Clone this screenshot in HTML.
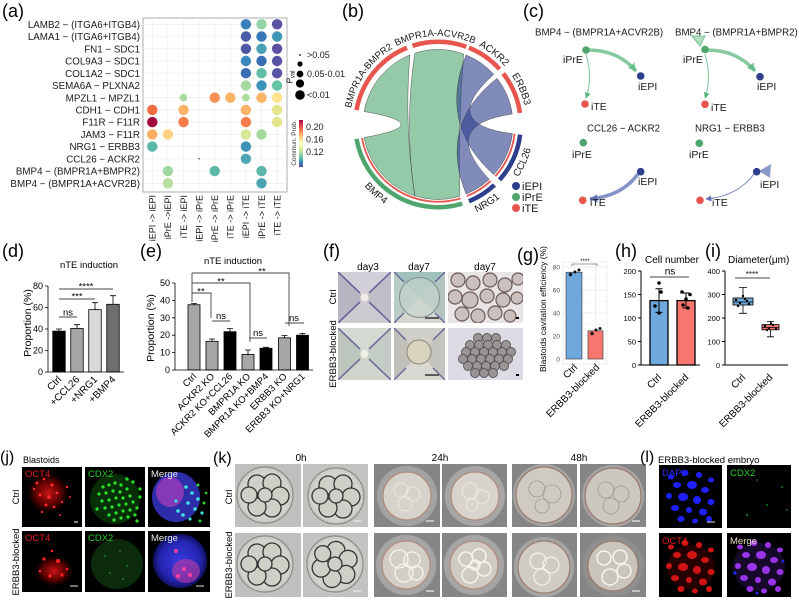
<!DOCTYPE html>
<html><head><meta charset="utf-8">
<style>
html,body{margin:0;padding:0;background:#fff;}
svg{display:block;font-family:"Liberation Sans",Arial,sans-serif;}
</style></head><body>
<svg width="799" height="603" viewBox="0 0 799 603" xmlns="http://www.w3.org/2000/svg">
<defs>
<linearGradient id="spec" x1="0" y1="0" x2="0" y2="1">
<stop offset="0" stop-color="#9e0142"/><stop offset="0.1" stop-color="#d53e4f"/><stop offset="0.2" stop-color="#f46d43"/><stop offset="0.3" stop-color="#fdae61"/><stop offset="0.4" stop-color="#fee08b"/><stop offset="0.5" stop-color="#ffffbf"/><stop offset="0.6" stop-color="#e6f598"/><stop offset="0.7" stop-color="#abdda4"/><stop offset="0.8" stop-color="#66c2a5"/><stop offset="0.9" stop-color="#3288bd"/><stop offset="1" stop-color="#5e4fa2"/>
</linearGradient>
<radialGradient id="redHaze"><stop offset="0" stop-color="#e01818" stop-opacity="0.9"/><stop offset="0.6" stop-color="#a00000" stop-opacity="0.55"/><stop offset="1" stop-color="#300000" stop-opacity="0"/></radialGradient>
<radialGradient id="blueHaze"><stop offset="0" stop-color="#3a3ae0"/><stop offset="0.75" stop-color="#2424b0"/><stop offset="1" stop-color="#101060"/></radialGradient>
<radialGradient id="bg24"><stop offset="0" stop-color="#a9a9a9"/><stop offset="0.55" stop-color="#9a9a9a"/><stop offset="1" stop-color="#858585"/></radialGradient>
<marker id="mg" viewBox="0 0 10 10" refX="9" refY="5" markerWidth="2.4" markerHeight="2.4" orient="auto"><path d="M0,0 L10,5 L0,10 z" fill="#5cb87f" fill-opacity="0.8"/></marker>
<marker id="mg1" viewBox="0 0 10 10" refX="9" refY="5" markerWidth="6" markerHeight="6" orient="auto"><path d="M0,0 L10,5 L0,10 z" fill="#5cb87f"/></marker>
<marker id="mb" viewBox="0 0 10 10" refX="9" refY="5" markerWidth="2.4" markerHeight="2.4" orient="auto"><path d="M0,0 L10,5 L0,10 z" fill="#5a6db5" fill-opacity="0.85"/></marker>
<marker id="mb1" viewBox="0 0 10 10" refX="9" refY="5" markerWidth="6" markerHeight="6" orient="auto"><path d="M0,0 L10,5 L0,10 z" fill="#5a6db5"/></marker>
<g id="nuc">
<ellipse cx="12" cy="12" rx="3" ry="2.5"/><ellipse cx="26" cy="8" rx="3.5" ry="3"/><ellipse cx="40" cy="10" rx="3" ry="3"/><ellipse cx="52" cy="15" rx="3" ry="2.5"/><ellipse cx="18" cy="20" rx="4" ry="3"/><ellipse cx="33" cy="20" rx="5" ry="4"/><ellipse cx="46" cy="25" rx="4" ry="3"/><ellipse cx="10" cy="31" rx="3" ry="3"/><ellipse cx="24" cy="32" rx="5" ry="4"/><ellipse cx="38" cy="35" rx="4" ry="4"/><ellipse cx="52" cy="37" rx="3.5" ry="3"/><ellipse cx="16" cy="43" rx="4" ry="3"/><ellipse cx="30" cy="45" rx="3" ry="3"/><ellipse cx="44" cy="47" rx="4" ry="3.5"/><ellipse cx="22" cy="54" rx="3.5" ry="3"/><ellipse cx="36" cy="56" rx="3" ry="2.5"/><ellipse cx="50" cy="54" rx="3" ry="3"/>
</g>
<g id="emb0">
<circle r="28" fill="#cdcdc7" stroke="#8a8a86" stroke-width="1.2"/>
<circle r="25" fill="#d3d3cd"/>
<g stroke="#333" stroke-width="1.3" fill="#cfcfc8">
<circle cx="-8" cy="-11" r="9"/><circle cx="7" cy="-12" r="9"/><circle cx="15" cy="1" r="9"/><circle cx="7" cy="13" r="9"/><circle cx="-8" cy="12" r="9"/><circle cx="-16" cy="0" r="8"/><circle cx="0" cy="0" r="7"/>
</g>
</g>
</defs>

<!-- ================= (a) ================= -->
<text x="2" y="17" font-size="18">(a)</text>
<rect x="143" y="18" width="144" height="174" fill="#fff" stroke="#9a9a9a" stroke-width="0.8"/>
<g stroke="#ebebeb" stroke-width="0.6">
<path d="M152.3,18V192M167.9,18V192M183.5,18V192M199.1,18V192M214.7,18V192M230.3,18V192M245.9,18V192M261.5,18V192M277.1,18V192"/>
<path d="M143,24.3H287M143,36.5H287M143,48.8H287M143,61H287M143,73.2H287M143,85.5H287M143,97.7H287M143,109.9H287M143,122.1H287M143,134.4H287M143,146.6H287M143,158.8H287M143,171.1H287M143,183.3H287"/>
</g>
<g>
<circle cx="245.9" cy="24.3" r="5.2" fill="#3a80bd"/><circle cx="261.5" cy="24.3" r="5.2" fill="#93d4a4"/><circle cx="277.1" cy="24.3" r="5.2" fill="#5a52a3"/>
<circle cx="245.9" cy="36.5" r="5.2" fill="#4c5ba8"/><circle cx="261.5" cy="36.5" r="5.2" fill="#3577b8"/><circle cx="277.1" cy="36.5" r="5.2" fill="#3f96b7"/>
<circle cx="245.9" cy="48.8" r="5.2" fill="#4f58a7"/><circle cx="261.5" cy="48.8" r="5.2" fill="#4aa0b4"/><circle cx="277.1" cy="48.8" r="5.2" fill="#5e4fa2"/>
<circle cx="245.9" cy="61" r="5.2" fill="#3a88bd"/><circle cx="261.5" cy="61" r="5.2" fill="#3a6fb4"/><circle cx="277.1" cy="61" r="5.2" fill="#5752a3"/>
<circle cx="245.9" cy="73.2" r="5.2" fill="#3b6db3"/><circle cx="261.5" cy="73.2" r="5.2" fill="#62bea6"/><circle cx="277.1" cy="73.2" r="5.2" fill="#5654a4"/>
<circle cx="245.9" cy="85.5" r="5.2" fill="#a6da9f"/><circle cx="261.5" cy="85.5" r="5.2" fill="#3d92b8"/><circle cx="277.1" cy="85.5" r="5.2" fill="#66c2a5"/>
<circle cx="183.5" cy="97.7" r="3.8" fill="#a9db9e"/><circle cx="214.7" cy="97.7" r="5.2" fill="#f88e52"/><circle cx="230.3" cy="97.7" r="5.2" fill="#fdb465"/><circle cx="245.9" cy="97.7" r="3.8" fill="#addc9f"/><circle cx="261.5" cy="97.7" r="5.2" fill="#fdb465"/><circle cx="277.1" cy="97.7" r="5.2" fill="#fee28f"/>
<circle cx="152.3" cy="109.9" r="5.2" fill="#f46d43"/><circle cx="183.5" cy="109.9" r="5.2" fill="#fdb466"/><circle cx="245.9" cy="109.9" r="5.2" fill="#fdb466"/><circle cx="277.1" cy="109.9" r="5.2" fill="#e3e48c"/>
<circle cx="152.3" cy="122.1" r="5.2" fill="#a0083f"/><circle cx="183.5" cy="122.1" r="5.2" fill="#f67c4a"/><circle cx="245.9" cy="122.1" r="5.2" fill="#f67c4a"/><circle cx="277.1" cy="122.1" r="5.2" fill="#e3e48c"/>
<circle cx="152.3" cy="134.4" r="5.2" fill="#fdae61"/><circle cx="167.9" cy="134.4" r="5.2" fill="#fed484"/><circle cx="245.9" cy="134.4" r="5.2" fill="#d4e89a"/><circle cx="261.5" cy="134.4" r="5.2" fill="#a5d9a0"/>
<circle cx="152.3" cy="146.6" r="5.2" fill="#5ab6a9"/><circle cx="245.9" cy="146.6" r="5.2" fill="#3f93b9"/>
<circle cx="199.1" cy="158.8" r="0.7" fill="#222"/><circle cx="245.9" cy="158.8" r="5.2" fill="#4ba5b2"/>
<circle cx="167.9" cy="171.1" r="5.2" fill="#9fd7a2"/><circle cx="214.7" cy="171.1" r="5.2" fill="#5cb7a8"/><circle cx="261.5" cy="171.1" r="5.2" fill="#5cb7a8"/>
<circle cx="167.9" cy="183.3" r="5.2" fill="#b7e0a0"/><circle cx="261.5" cy="183.3" r="5.2" fill="#4aa5b1"/>
</g>
<g font-size="9.8" text-anchor="end" fill="#1a1a1a">
<text x="140" y="27.9">LAMB2 − (ITGA6+ITGB4)</text>
<text x="140" y="40.1">LAMA1 − (ITGA6+ITGB4)</text>
<text x="140" y="52.4">FN1 − SDC1</text>
<text x="140" y="64.6">COL9A3 − SDC1</text>
<text x="140" y="76.8">COL1A2 − SDC1</text>
<text x="140" y="89.1">SEMA6A − PLXNA2</text>
<text x="140" y="101.3">MPZL1 − MPZL1</text>
<text x="140" y="113.5">CDH1 − CDH1</text>
<text x="140" y="125.7">F11R − F11R</text>
<text x="140" y="138">JAM3 − F11R</text>
<text x="140" y="150.2">NRG1 − ERBB3</text>
<text x="140" y="162.4">CCL26 − ACKR2</text>
<text x="140" y="174.7">BMP4 − (BMPR1A+BMPR2)</text>
<text x="140" y="186.9">BMP4 − (BMPR1A+ACVR2B)</text>
</g>
<g font-size="9" text-anchor="end" fill="#1a1a1a">
<text transform="translate(155.6,195) rotate(-90)">iEPI -&gt; iEPI</text>
<text transform="translate(171.2,195) rotate(-90)">iPrE -&gt;iEPI</text>
<text transform="translate(186.8,195) rotate(-90)">iTE -&gt; iEPI</text>
<text transform="translate(202.4,195) rotate(-90)">iEPI -&gt; iPrE</text>
<text transform="translate(218,195) rotate(-90)">iPrE -&gt; iPrE</text>
<text transform="translate(233.6,195) rotate(-90)">iTE -&gt; iPrE</text>
<text transform="translate(249.2,195) rotate(-90)">iEPI -&gt; iTE</text>
<text transform="translate(264.8,195) rotate(-90)">iPrE -&gt; iTE</text>
<text transform="translate(280.4,195) rotate(-90)">iTE -&gt; iTE</text>
</g>
<!-- legend a -->
<text transform="translate(292.5,77) rotate(-90)" text-anchor="middle" font-size="8" font-style="italic">P<tspan font-size="6" dy="2" font-style="normal">val</tspan></text>
<circle cx="300" cy="55" r="0.9" fill="#000"/><circle cx="300" cy="64" r="2.6" fill="#000"/><circle cx="300" cy="74" r="3.4" fill="#000"/><circle cx="300" cy="83.5" r="4.1" fill="#000"/><circle cx="300" cy="95" r="4.8" fill="#000"/>
<g font-size="9" fill="#1a1a1a"><text x="307" y="58">&gt;0.05</text><text x="307" y="77">0.05-0.01</text><text x="307" y="98">&lt;0.01</text></g>
<rect x="299" y="120" width="4" height="47" fill="url(#spec)"/>
<g font-size="9" fill="#1a1a1a"><text x="306" y="130">0.20</text><text x="306" y="142.5">0.16</text><text x="306" y="155">0.12</text></g>
<text transform="translate(296,143) rotate(-90)" text-anchor="middle" font-size="6.5" fill="#333">Commun. Prob.</text>

<!-- ================= (b) ================= -->
<text x="342" y="17" font-size="18">(b)</text>
<g transform="translate(0,2.5)">
<defs>
<path id="lp1" d="M349.51,123.54 A88.5,88.5 0 0 1 421.11,35.13"/>
<path id="lp2" d="M377.31,57.23 A88.5,88.5 0 0 1 492.06,52.21"/>
<path id="lp3" d="M448.79,34.16 A88.5,88.5 0 0 1 519.46,87.42"/>
<path id="lp4" d="M491.26,51.32 A88.5,88.5 0 0 1 525.84,132.79"/>
<path id="lp5" d="M346.70,151.66 A96,96 0 0 0 418.04,215.90"/>
<path id="lp6" d="M454.67,216.54 A96,96 0 0 0 515.66,178.43"/>
<path id="lp7" d="M499.71,195.54 A96,96 0 0 0 533.94,118.65"/>
</defs>
<g stroke="#333" stroke-width="0.5" stroke-opacity="0.8">
<path d="M364.14,108.98 A75,75 0 0 1 409.90,52.46 Q404,122 414.82,193.33 A75,75 0 0 1 364.14,135.02 Q438,122 364.14,108.98 Z" fill="#4ea66e" fill-opacity="0.6"/>
<path d="M414.82,50.67 A75,75 0 0 1 463.65,51.52 Q458,122 459.93,193.72 A75,75 0 0 1 414.82,193.33 Q404,122 414.82,50.67 Z" fill="#4ea66e" fill-opacity="0.6"/>
<path d="M466.10,52.46 A75,75 0 0 1 493.73,71.82 Q438,122 512.44,131.14 A75,75 0 0 1 493.73,172.18 Q438,122 466.10,52.46 Z" fill="#2c3e8c" fill-opacity="0.6"/>
<path d="M497.10,75.82 A75,75 0 0 1 512.27,111.56 Q438,122 489.15,176.86 A75,75 0 0 1 466.10,191.54 Q438,122 497.10,75.82 Z" fill="#2c3e8c" fill-opacity="0.6"/>
</g>
<g fill="none" stroke-width="4.5">
<path d="M356.51,107.63 A82.75,82.75 0 0 1 407.00,45.27" stroke="#e8554e"/>
<path d="M412.43,43.30 A82.75,82.75 0 0 1 466.30,44.24" stroke="#e8554e"/>
<path d="M469.00,45.27 A82.75,82.75 0 0 1 499.49,66.63" stroke="#e8554e"/>
<path d="M503.21,71.05 A82.75,82.75 0 0 1 519.95,110.48" stroke="#e8554e"/>
<path d="M520.13,132.09 A82.75,82.75 0 0 1 499.49,177.37" stroke="#2c3e8c"/>
<path d="M494.44,182.52 A82.75,82.75 0 0 1 469.00,198.73" stroke="#2c3e8c"/>
<path d="M462.20,201.13 A82.75,82.75 0 0 1 356.51,136.37" stroke="#4ea66e"/>
</g>
<g fill="none" stroke-width="1.8" stroke="#e8554e">
<path d="M514.62,131.41 A77.2,77.2 0 0 1 495.37,173.65"/>
<path d="M490.65,178.46 A77.2,77.2 0 0 1 466.92,193.58"/>
<path d="M460.57,195.83 A77.2,77.2 0 0 1 361.97,135.40"/>
</g>
<g font-size="10" text-anchor="middle" fill="#1a1a1a">
<text font-size="9.5"><textPath href="#lp1" startOffset="45%">BMPR1A-BMPR2</textPath></text>
<text font-size="9.5"><textPath href="#lp2" startOffset="51%">BMPR1A-ACVR2B</textPath></text>
<text><textPath href="#lp3" startOffset="52%">ACKR2</textPath></text>
<text><textPath href="#lp4" startOffset="50%">ERBB3</textPath></text>
<text><textPath href="#lp5" startOffset="50%">BMP4</textPath></text>
<text><textPath href="#lp6" startOffset="50%">NRG1</textPath></text>
<text><textPath href="#lp7" startOffset="50%">CCL26</textPath></text>
</g>
</g>
<circle cx="516" cy="186" r="4" fill="#2c3e8c"/><circle cx="516" cy="197" r="4" fill="#4ea66e"/><circle cx="516" cy="208" r="4" fill="#e8554e"/>
<g font-size="11" fill="#1a1a1a"><text x="522" y="190">iEPI</text><text x="522" y="201">iPrE</text><text x="522" y="212">iTE</text></g>

<!-- ================= (c) ================= -->
<text x="523" y="17" font-size="18">(c)</text>
<g font-size="9.7" fill="#1a1a1a">
<text x="535" y="35.5">BMP4 − (BMPR1A+ACVR2B)</text>
<text x="675" y="35.5">BMP4 − (BMPR1A+BMPR2)</text>
<text x="587" y="131.5">CCL26 − ACKR2</text>
<text x="695" y="131.5">NRG1 − ERBB3</text>
</g>
<g fill="none">
<path d="M588,50 Q618,50 636,71" stroke="#5cb87f" stroke-opacity="0.75" stroke-width="3.5" marker-end="url(#mg)"/>
<path d="M586,54 Q593,78 586,98" stroke="#5cb87f" stroke-opacity="0.8" stroke-width="1" marker-end="url(#mg1)"/>
<path d="M707,50 Q737,50 755,71" stroke="#5cb87f" stroke-opacity="0.75" stroke-width="3.5" marker-end="url(#mg)"/>
<path d="M705,54 Q712,78 705,98" stroke="#5cb87f" stroke-opacity="0.8" stroke-width="1" marker-end="url(#mg1)"/>
<path d="M638,174 Q622,196 590,199" stroke="#5a6db5" stroke-opacity="0.75" stroke-width="3.5" marker-end="url(#mb)"/>
<path d="M754,174 Q738,196 706,199" stroke="#5a6db5" stroke-opacity="0.85" stroke-width="1" marker-end="url(#mb1)"/>
</g>
<polygon points="692,36 705,36 700,46" fill="#5cb87f" fill-opacity="0.45" stroke="#5cb87f" stroke-width="0.8"/>
<polygon points="759,171 771,164 770,178" fill="#5a6db5" fill-opacity="0.7"/>
<g>
<circle cx="586" cy="50" r="3.8" fill="#4ea66e"/><circle cx="640.7" cy="76" r="3.8" fill="#2c3e8c"/><circle cx="585" cy="104" r="3.8" fill="#e8554e"/>
<circle cx="705" cy="49.5" r="3.8" fill="#4ea66e"/><circle cx="760" cy="76.7" r="3.8" fill="#2c3e8c"/><circle cx="705" cy="104.3" r="3.8" fill="#e8554e"/>
<circle cx="583.3" cy="142.7" r="3.8" fill="#4ea66e"/><circle cx="640.7" cy="171.7" r="3.8" fill="#2c3e8c"/><circle cx="582.7" cy="200.3" r="3.8" fill="#e8554e"/>
<circle cx="699.3" cy="143.3" r="3.8" fill="#4ea66e"/><circle cx="756.7" cy="171.7" r="3.8" fill="#2c3e8c"/><circle cx="700" cy="200.3" r="3.8" fill="#e8554e"/>
</g>
<g font-size="10.5" fill="#1a1a1a">
<text x="563" y="63">iPrE</text><text x="638" y="90">iEPI</text><text x="591" y="110">iTE</text>
<text x="683" y="63">iPrE</text><text x="757" y="90">iEPI</text><text x="711" y="111">iTE</text>
<text x="572" y="158">iPrE</text><text x="638" y="185">iEPI</text><text x="590" y="206">iTE</text>
<text x="689" y="158">iPrE</text><text x="760" y="188">iEPI</text><text x="712" y="206">iTE</text>
</g>

<!-- ================= (d) ================= -->
<text x="2" y="257" font-size="18">(d)</text>
<text x="89" y="268" font-size="9.5" text-anchor="middle">nTE induction</text>
<g stroke="#000" stroke-width="0.8">
<rect x="52.75" y="331.15" width="12.5" height="40.85" fill="#000"/>
<rect x="70.75" y="328.46" width="12.5" height="43.54" fill="#a6a6a6"/>
<rect x="88.75" y="309.65" width="12.5" height="62.35" fill="#d9d9d9"/>
<rect x="106.75" y="304.28" width="12.5" height="67.72" fill="#6e6e6e"/>
<path d="M59,331V329M56,329H62M77,328.5V324.7M74,324.7H80M95,309.6V302.7M92,302.7H98M113,304.3V295.7M110,295.7H116" fill="none"/>
<path d="M48,286V372H124M45,286H48M45,307.5H48M45,329H48M45,350.5H48M45,372H48" fill="none"/>
</g>
<g font-size="9" text-anchor="end"><text x="43" y="289">80</text><text x="43" y="310.5">60</text><text x="43" y="332">40</text><text x="43" y="353.5">20</text><text x="43" y="375">0</text></g>
<g stroke="#444" stroke-width="0.9"><path d="M59,317H77M59,299H95M59,289H113"/></g>
<g font-size="9.5" text-anchor="middle"><text x="68" y="315.5">ns</text><text x="77" y="299.5">***</text><text x="86" y="289.5">****</text></g>
<text transform="translate(31,323) rotate(-90)" font-size="10.5" text-anchor="middle">Proportion (%)</text>
<g font-size="10" text-anchor="end">
<text transform="translate(62,380) rotate(-45)">Ctrl</text>
<text transform="translate(80,380) rotate(-45)">+CCL26</text>
<text transform="translate(98,380) rotate(-45)">+NRG1</text>
<text transform="translate(116,380) rotate(-45)">+BMP4</text>
</g>

<!-- ================= (e) ================= -->
<text x="140" y="257" font-size="18">(e)</text>
<text x="233" y="264" font-size="9.5" text-anchor="middle">nTE induction</text>
<g stroke="#000" stroke-width="0.8">
<rect x="188" y="304.75" width="12" height="65.25" fill="#a6a6a6"/>
<rect x="206" y="341.29" width="12" height="28.71" fill="#a6a6a6"/>
<rect x="224" y="331.72" width="12" height="38.28" fill="#000"/>
<rect x="242" y="354.34" width="12" height="15.66" fill="#a6a6a6"/>
<rect x="260" y="348.25" width="12" height="21.75" fill="#000"/>
<rect x="278.5" y="337.81" width="12" height="32.19" fill="#a6a6a6"/>
<rect x="296.5" y="335.2" width="12" height="34.8" fill="#000"/>
<path d="M194,304.75V303.5M191,303.5H197M212,341.3V339M209,339H215M230,331.7V328.6M227,328.6H233M248,354.3V350M245,350H251M266,348.2V347.3M263,347.3H269M284.5,337.8V335.5M281.5,335.5H287.5M302.5,335.2V333.5M299.5,333.5H305.5" fill="none"/>
<path d="M175,283V370H313M172,283H175M172,300.4H175M172,317.8H175M172,335.2H175M172,352.6H175M172,370H175" fill="none"/>
</g>
<g font-size="9" text-anchor="end"><text x="170" y="286">50</text><text x="170" y="303.4">40</text><text x="170" y="320.8">30</text><text x="170" y="338.2">20</text><text x="170" y="355.6">10</text><text x="170" y="373">0</text></g>
<g stroke="#444" stroke-width="0.9" fill="none">
<path d="M192,273V302M192,293H211V318M192,283H250V342M192,273H289V326"/>
<path d="M212,321H230M249,338H267M285,323H304"/>
</g>
<g font-size="9.5" text-anchor="middle"><text x="201" y="294.5">**</text><text x="221" y="284.5">**</text><text x="262" y="274.5">**</text>
<text x="221" y="319">ns</text><text x="258" y="336">ns</text><text x="294" y="321">ns</text></g>
<text transform="translate(154,328) rotate(-90)" font-size="10.5" text-anchor="middle">Proportion (%)</text>
<g font-size="9.5" text-anchor="end">
<text transform="translate(197,377) rotate(-45)">Ctrl</text>
<text transform="translate(215,377) rotate(-45)">ACKR2 KO</text>
<text transform="translate(233,377) rotate(-45)">ACKR2 KO+CCL26</text>
<text transform="translate(251,377) rotate(-45)">BMPR1A KO</text>
<text transform="translate(269,377) rotate(-45)">BMPR1A KO+BMP4</text>
<text transform="translate(287.5,377) rotate(-45)">ERBB3 KO</text>
<text transform="translate(305.5,377) rotate(-45)">ERBB3 KO+NRG1</text>
</g>

<!-- ================= (f) ================= -->
<text x="323" y="257" font-size="18">(f)</text>
<g font-size="10" text-anchor="middle"><text x="368" y="270">day3</text><text x="419" y="270">day7</text><text x="485" y="270">day7</text></g>
<g font-size="9.6" text-anchor="middle">
<text transform="translate(336,297) rotate(-90)">Ctrl</text>
<text transform="translate(336,354) rotate(-90)">ERBB3-blocked</text>
</g>
<svg x="338" y="272" width="53" height="51">
<polygon points="0,0 53,0 26.5,25.5" fill="#d3cfd8"/><polygon points="53,0 53,51 26.5,25.5" fill="#c2bec9"/><polygon points="0,51 53,51 26.5,25.5" fill="#cdcad1"/><polygon points="0,0 0,51 26.5,25.5" fill="#b8b5c2"/>
<path d="M0,0 L22,21 M53,0 L31,21 M0,51 L22,30 M53,51 L31,30" stroke="#574a8c" stroke-width="1.6" opacity="0.8"/>
<circle cx="26.5" cy="25.5" r="4" fill="#eeeae6"/>
</svg>
<svg x="338" y="328" width="53" height="52">
<polygon points="0,0 53,0 26.5,26" fill="#d2dad1"/><polygon points="53,0 53,52 26.5,26" fill="#c4cdc5"/><polygon points="0,52 53,52 26.5,26" fill="#cfd5cc"/><polygon points="0,0 0,52 26.5,26" fill="#bcc6bd"/>
<path d="M0,0 L22,21 M53,0 L31,21 M0,52 L22,31 M53,52 L31,31" stroke="#5c5490" stroke-width="1.6" opacity="0.8"/>
<circle cx="26.5" cy="26" r="4" fill="#eef0e8"/>
</svg>
<svg x="394" y="272" width="51" height="51">
<polygon points="0,0 51,0 25.5,25.5" fill="#a0c2bb"/><polygon points="51,0 51,51 25.5,25.5" fill="#b2c5c0"/><polygon points="0,51 51,51 25.5,25.5" fill="#d4d7d0"/><polygon points="0,0 0,51 25.5,25.5" fill="#b9ccc6"/>
<path d="M0,0 L10,10 M51,0 L41,10 M0,51 L10,41 M51,51 L41,41" stroke="#574a8c" stroke-width="1.4" opacity="0.8"/>
<circle cx="25.5" cy="25.5" r="20" fill="#c7d3cd" fill-opacity="0.6" stroke="#7e8f88" stroke-width="1"/>
<path d="M31,46H45" stroke="#333" stroke-width="1.5"/>
</svg>
<svg x="394" y="328" width="51" height="52">
<polygon points="0,0 51,0 25.5,26" fill="#cfcec8"/><polygon points="51,0 51,52 25.5,26" fill="#c4c3bd"/><polygon points="0,52 51,52 25.5,26" fill="#d8d7d1"/><polygon points="0,0 0,52 25.5,26" fill="#c0bfb9"/>
<path d="M0,0 L12,12 M51,0 L39,12 M0,52 L12,40 M51,52 L39,40" stroke="#574a8c" stroke-width="1.4" opacity="0.8"/>
<circle cx="25" cy="24" r="12" fill="#d9d2bc" stroke="#8e8a7a" stroke-width="1"/>
<path d="M31,47H45" stroke="#333" stroke-width="1.5"/>
</svg>
<svg x="448" y="272" width="75" height="51">
<rect width="75" height="51" fill="#e9e5e6"/>
<g fill="#cbc0be" stroke="#6b5b58" stroke-width="1.2">
<circle cx="10" cy="8" r="7"/><circle cx="25" cy="11" r="7"/><circle cx="42" cy="8" r="7"/><circle cx="57" cy="13" r="7"/><circle cx="70" cy="7" r="6"/>
<circle cx="7" cy="25" r="7"/><circle cx="22" cy="28" r="8"/><circle cx="39" cy="24" r="7"/><circle cx="55" cy="28" r="7"/><circle cx="69" cy="26" r="6"/>
<circle cx="14" cy="42" r="7"/><circle cx="30" cy="44" r="7"/><circle cx="47" cy="41" r="7"/><circle cx="62" cy="44" r="6"/>
</g>
<rect x="68" y="45" width="3" height="2" fill="#000"/>
</svg>
<svg x="448" y="328" width="75" height="52">
<rect width="75" height="52" fill="#dcdbe3"/>
<g fill="#9a9494" stroke="#555" stroke-width="0.9">
<circle cx="30" cy="10" r="4.5"/><circle cx="39" cy="10" r="4.5"/><circle cx="48" cy="10" r="4.5"/>
<circle cx="22" cy="17" r="4.5"/><circle cx="31" cy="17" r="4.5"/><circle cx="40" cy="17" r="4.5"/><circle cx="49" cy="17" r="4.5"/><circle cx="58" cy="17" r="4.5"/>
<circle cx="18" cy="24" r="4.5"/><circle cx="27" cy="24" r="4.5"/><circle cx="36" cy="24" r="4.5"/><circle cx="45" cy="24" r="4.5"/><circle cx="54" cy="24" r="4.5"/><circle cx="63" cy="24" r="4.5"/>
<circle cx="15" cy="31" r="4.5"/><circle cx="24" cy="31" r="4.5"/><circle cx="33" cy="31" r="4.5"/><circle cx="42" cy="31" r="4.5"/><circle cx="51" cy="31" r="4.5"/><circle cx="60" cy="31" r="4.5"/>
<circle cx="20" cy="38" r="4.5"/><circle cx="29" cy="38" r="4.5"/><circle cx="38" cy="38" r="4.5"/><circle cx="47" cy="38" r="4.5"/><circle cx="56" cy="38" r="4.5"/>
<circle cx="27" cy="45" r="4.5"/><circle cx="36" cy="45" r="4.5"/><circle cx="45" cy="45" r="4.5"/>
</g>
<rect x="68" y="46" width="3" height="2" fill="#000"/>
</svg>

<!-- ================= (g) ================= -->
<text x="517" y="261" font-size="18">(g)</text>
<text transform="translate(546,309) rotate(-90)" font-size="8.5" text-anchor="middle">Blastoids cavitation efficiency (%)</text>
<rect x="563" y="262" width="44" height="102" fill="#fff" stroke="#e0e0e0" stroke-width="0.6"/>
<g stroke="#f2f2f2" stroke-width="0.5"><path d="M563,347.5H607M563,324.5H607M563,301.5H607M563,278.5H607"/></g>
<g stroke="#e6e6e6" stroke-width="0.7"><path d="M563,359H607M563,336H607M563,313H607M563,290H607M563,267H607M574,262V364M595.5,262V364"/></g>
<g font-size="6.5" fill="#4d4d4d" text-anchor="end"><text x="560" y="269.5">80</text><text x="560" y="292.5">60</text><text x="560" y="315.5">40</text><text x="560" y="338.5">20</text><text x="560" y="361.5">0</text></g>
<rect x="566" y="272.2" width="16" height="86.8" fill="#6fa8dc" stroke="#333" stroke-width="0.6"/>
<rect x="588" y="330.8" width="15" height="28.2" fill="#f8766d" stroke="#333" stroke-width="0.6"/>
<g fill="#111"><circle cx="570.5" cy="274.5" r="1.7"/><circle cx="575" cy="272" r="1.5"/><circle cx="579" cy="270" r="1.5"/><circle cx="592" cy="333.5" r="1.7"/><circle cx="596" cy="330" r="1.5"/><circle cx="600" cy="328.5" r="1.5"/></g>
<path d="M572,266V264H597V266" stroke="#444" stroke-width="0.6" fill="none"/>
<text x="585" y="263" font-size="6" text-anchor="middle">****</text>
<g font-size="10" text-anchor="end">
<text transform="translate(578,368) rotate(-45)">Ctrl</text>
<text transform="translate(600,368) rotate(-45)">ERBB3-blocked</text>
</g>

<!-- ================= (h) ================= -->
<text x="615" y="257" font-size="18">(h)</text>
<text x="645" y="263" font-size="10">Cell number</text>
<g stroke="#000" stroke-width="1">
<path d="M641,271V365H700M638,271H641M638,294.5H641M638,318H641M638,341.5H641M638,365H641" fill="none"/>
</g>
<g font-size="7.5" text-anchor="end"><text x="636" y="274">200</text><text x="636" y="297.5">150</text><text x="636" y="321">100</text><text x="636" y="344.5">50</text><text x="636" y="368">0</text></g>
<rect x="650" y="300.6" width="18" height="64.4" fill="#6fa8dc" stroke="#000" stroke-width="1.3"/>
<rect x="677" y="300.6" width="18" height="64.4" fill="#f8766d" stroke="#000" stroke-width="1.3"/>
<g stroke="#000" stroke-width="1"><path d="M659,288.8V312.4M655.5,288.8H662.5M655.5,312.4H662.5M686,293V308M682.5,293H689.5M682.5,308H689.5"/></g>
<g fill="#000"><circle cx="659" cy="283" r="1.8"/><circle cx="661" cy="292" r="1.8"/><circle cx="655" cy="306" r="1.8"/><circle cx="659" cy="313" r="1.8"/>
<circle cx="682" cy="292" r="1.8"/><circle cx="690" cy="294.5" r="1.8"/><circle cx="686" cy="299" r="1.8"/><circle cx="683" cy="305" r="1.8"/><circle cx="688" cy="308" r="1.8"/></g>
<path d="M650,277H689" stroke="#444" stroke-width="1"/>
<text x="670" y="274.5" font-size="10" text-anchor="middle">ns</text>
<g font-size="10" text-anchor="end">
<text transform="translate(662,378) rotate(-45)">Ctrl</text>
<text transform="translate(689,378) rotate(-45)">ERBB3-blocked</text>
</g>

<!-- ================= (i) ================= -->
<text x="705" y="257" font-size="18">(i)</text>
<text x="728" y="263" font-size="10">Diameter(μm)</text>
<g stroke="#000" stroke-width="1">
<path d="M725,271V365H788M722,271H725M722,294.5H725M722,318H725M722,341.5H725M722,365H725" fill="none"/>
</g>
<g font-size="7.5" text-anchor="end"><text x="720" y="274">400</text><text x="720" y="297.5">300</text><text x="720" y="321">200</text><text x="720" y="344.5">100</text><text x="720" y="368">0</text></g>
<g stroke="#000" stroke-width="0.8">
<path d="M743,287.5V298M743,305V313.3M739,287.5H747M739,313.3H747M770.5,321.5V324.6M770.5,329.8V336.8M767,321.5H774M767,336.8H774" fill="none"/>
<rect x="733" y="298" width="20" height="7" fill="#6fa8dc"/>
<rect x="762" y="324.6" width="17" height="5.2" fill="#f8766d"/>
<path d="M733,302H753M762,327.4H779"/>
</g>
<g fill="#000"><circle cx="736" cy="300" r="1.2"/><circle cx="740" cy="303" r="1.2"/><circle cx="745" cy="299" r="1.2"/><circle cx="749" cy="304" r="1.2"/><circle cx="743" cy="296" r="1.2"/><circle cx="738" cy="306" r="1.2"/><circle cx="747" cy="301" r="1.2"/>
<circle cx="765" cy="326" r="1.2"/><circle cx="769" cy="328" r="1.2"/><circle cx="773" cy="325" r="1.2"/><circle cx="776" cy="329" r="1.2"/><circle cx="767" cy="330" r="1.2"/><circle cx="771" cy="323.5" r="1.2"/></g>
<path d="M735,278H770" stroke="#444" stroke-width="1"/>
<text x="752" y="277" font-size="8" text-anchor="middle">****</text>
<g font-size="10" text-anchor="end">
<text transform="translate(746,378) rotate(-45)">Ctrl</text>
<text transform="translate(773,378) rotate(-45)">ERBB3-blocked</text>
</g>

<!-- ================= (j) ================= -->
<text x="0" y="462" font-size="16">(j)</text>
<text x="23" y="463" font-size="9">Blastoids</text>
<g font-size="9.5" text-anchor="middle">
<text transform="translate(19,497) rotate(-90)">Ctrl</text>
<text transform="translate(19,562) rotate(-90)">ERBB3-blocked</text>
</g>
<svg x="22" y="467" width="60" height="60">
<rect width="60" height="60" fill="#000"/>
<ellipse cx="26" cy="26" rx="22" ry="21" fill="url(#redHaze)"/>
<g fill="#ff2a2a"><circle cx="15" cy="16" r="1.5"/><circle cx="22" cy="12" r="1.3"/><circle cx="30" cy="18" r="1.6"/><circle cx="18" cy="28" r="1.5"/><circle cx="27" cy="30" r="1.8"/><circle cx="12" cy="22" r="1.2"/><circle cx="35" cy="26" r="1.4"/><circle cx="24" cy="38" r="1.5"/><circle cx="32" cy="40" r="1.3"/><circle cx="40" cy="35" r="1.2"/><circle cx="45" cy="20" r="1.2"/><circle cx="48" cy="30" r="1"/><circle cx="20" cy="45" r="1.2"/><circle cx="38" cy="48" r="1"/></g>
<text x="3" y="10" font-size="9.5" fill="#e81c1c">OCT4</text>
<path d="M52,55H56" stroke="#ddd" stroke-width="1.2"/>
</svg>
<svg x="85" y="467" width="60" height="60">
<rect width="60" height="60" fill="#000"/>
<ellipse cx="30" cy="32" rx="25" ry="25" fill="#0b420b" opacity="0.7"/>
<g fill="#2ee02e"><circle cx="18" cy="20" r="1.6"/><circle cx="24" cy="18" r="1.6"/><circle cx="30" cy="16" r="1.6"/><circle cx="36" cy="18" r="1.6"/><circle cx="14" cy="27" r="1.6"/><circle cx="21" cy="26" r="1.6"/><circle cx="28" cy="24" r="1.6"/><circle cx="35" cy="25" r="1.6"/><circle cx="42" cy="22" r="1.6"/><circle cx="17" cy="34" r="1.6"/><circle cx="24" cy="33" r="1.6"/><circle cx="31" cy="31" r="1.6"/><circle cx="38" cy="31" r="1.6"/><circle cx="45" cy="29" r="1.6"/><circle cx="20" cy="41" r="1.6"/><circle cx="27" cy="40" r="1.6"/><circle cx="34" cy="38" r="1.6"/><circle cx="41" cy="37" r="1.6"/><circle cx="48" cy="35" r="1.6"/><circle cx="24" cy="48" r="1.6"/><circle cx="31" cy="46" r="1.6"/><circle cx="38" cy="44" r="1.6"/><circle cx="45" cy="43" r="1.6"/><circle cx="52" cy="41" r="1.6"/><circle cx="29" cy="53" r="1.6"/><circle cx="36" cy="51" r="1.6"/><circle cx="43" cy="50" r="1.6"/><circle cx="50" cy="48" r="1.6"/><circle cx="55" cy="30" r="1.6"/><circle cx="55" cy="22" r="1.6"/><circle cx="48" cy="15" r="1.6"/><circle cx="42" cy="12" r="1.6"/><circle cx="52" cy="54" r="1.6"/><circle cx="12" cy="42" r="1.6"/></g>
<text x="3" y="10" font-size="9.5" fill="#22cc22">CDX2</text>
</svg>
<svg x="148" y="467" width="62" height="60">
<rect width="62" height="60" fill="#000"/>
<ellipse cx="28" cy="30" rx="24" ry="25" fill="#3535c8" opacity="0.85"/>
<ellipse cx="22" cy="25" rx="14" ry="15" fill="#c040c0" opacity="0.6"/>
<g fill="#40e0e0"><circle cx="38" cy="20" r="1.8"/><circle cx="44" cy="26" r="1.8"/><circle cx="50" cy="32" r="1.8"/><circle cx="40" cy="36" r="1.8"/><circle cx="47" cy="42" r="1.8"/><circle cx="54" cy="46" r="1.6"/><circle cx="35" cy="48" r="1.8"/><circle cx="42" cy="52" r="1.6"/><circle cx="30" cy="44" r="1.8"/><circle cx="28" cy="34" r="1.6"/></g>
<g fill="#30d030"><circle cx="50" cy="18" r="1.5"/><circle cx="56" cy="36" r="1.5"/><circle cx="52" cy="54" r="1.5"/><circle cx="58" cy="26" r="1.3"/></g>
<text x="3" y="10" font-size="9.5" fill="#e6e6e6">Merge</text>
</svg>
<svg x="22" y="531" width="60" height="61">
<rect width="60" height="61" fill="#000"/>
<ellipse cx="32" cy="40" rx="20" ry="16" fill="url(#redHaze)"/>
<g fill="#f22"><circle cx="22" cy="28" r="1.6"/><circle cx="36" cy="30" r="2"/><circle cx="28" cy="45" r="1.6"/><circle cx="40" cy="44" r="1.6"/><circle cx="30" cy="20" r="1.3"/><circle cx="45" cy="38" r="1.3"/><circle cx="18" cy="40" r="1.3"/></g>
<text x="3" y="10" font-size="9.5" fill="#e81c1c">OCT4</text>
<path d="M48,55H56" stroke="#bbb" stroke-width="1.2"/>
</svg>
<svg x="85" y="531" width="60" height="61">
<rect width="60" height="61" fill="#000"/>
<ellipse cx="32" cy="33" rx="26" ry="25" fill="#0d2f0d" opacity="0.9"/>
<g fill="#1f7a1f"><circle cx="20" cy="25" r="1"/><circle cx="35" cy="20" r="1"/><circle cx="42" cy="35" r="1"/><circle cx="25" cy="42" r="1"/><circle cx="38" cy="48" r="1"/></g>
<text x="3" y="10" font-size="9.5" fill="#22cc22">CDX2</text>
</svg>
<svg x="148" y="531" width="62" height="61">
<rect width="62" height="61" fill="#000"/>
<circle cx="32" cy="30" r="27" fill="url(#blueHaze)"/>
<ellipse cx="38" cy="40" rx="14" ry="12" fill="#c03aa0" opacity="0.6"/>
<g fill="#ff40a0"><circle cx="36" cy="38" r="2"/><circle cx="42" cy="44" r="2"/><circle cx="30" cy="45" r="2"/><circle cx="28" cy="20" r="2"/></g>
<text x="3" y="10" font-size="9.5" fill="#e6e6e6">Merge</text>
<path d="M48,55H56" stroke="#bbb" stroke-width="1.2"/>
</svg>

<!-- ================= (k) ================= -->
<text x="213" y="463" font-size="16">(k)</text>
<g font-size="10" text-anchor="middle"><text x="301" y="461">0h</text><text x="440" y="461">24h</text><text x="579" y="461">48h</text></g>
<g font-size="9.5" text-anchor="middle">
<text transform="translate(232,497) rotate(-90)">Ctrl</text>
<text transform="translate(232,565) rotate(-90)">ERBB3-blocked</text>
</g>
<svg x="235" y="464" width="66" height="63"><rect width="66" height="63" fill="#bfbfbd"/><use href="#emb0" transform="translate(30,31)"/></svg>
<svg x="303" y="464" width="65" height="63"><rect width="65" height="63" fill="#c2c2c0"/><use href="#emb0" transform="translate(33,32)"/><path d="M50,57H58" stroke="#eee" stroke-width="1.2"/></svg>
<svg x="235" y="533" width="66" height="64"><rect width="66" height="64" fill="#bfbfbd"/><use href="#emb0" transform="translate(30,31)"/></svg>
<svg x="303" y="533" width="65" height="64"><rect width="65" height="64" fill="#c2c2c0"/><use href="#emb0" transform="translate(32,31) rotate(40)"/><path d="M50,58H58" stroke="#eee" stroke-width="1.2"/></svg>
<svg x="374" y="464" width="66" height="63"><rect width="66" height="63" fill="url(#bg24)"/><circle cx="33" cy="32" r="30" fill="#a3a3a3"/><circle cx="33" cy="32" r="24" fill="#d6d2cc" stroke="#b38b7b" stroke-width="1.2"/><g fill="none" stroke="#f4f2ee" stroke-width="1" opacity="0.7"><circle cx="27" cy="26" r="7"/><circle cx="39" cy="30" r="7"/><circle cx="31" cy="40" r="7"/></g><path d="M52,57H60" stroke="#eee" stroke-width="1.2"/></svg>
<svg x="442" y="464" width="65" height="63"><rect width="65" height="63" fill="url(#bg24)"/><circle cx="33" cy="32" r="30" fill="#a6a6a6"/><circle cx="33" cy="32" r="24" fill="#d8d4cd" stroke="#b38b7b" stroke-width="1.2"/><g fill="none" stroke="#f4f2ee" stroke-width="1" opacity="0.7"><circle cx="28" cy="27" r="8"/><circle cx="40" cy="33" r="7"/><circle cx="30" cy="41" r="6"/></g></svg>
<svg x="374" y="533" width="66" height="64"><rect width="66" height="64" fill="url(#bg24)"/><circle cx="32" cy="32" r="30" fill="#a5a5a5"/><circle cx="32" cy="32" r="24" fill="#d2cec6" stroke="#b38b7b" stroke-width="1.2"/><g fill="none" stroke="#f6f4ef" stroke-width="1.3"><circle cx="25" cy="26" r="9"/><circle cx="38" cy="27" r="8"/><circle cx="30" cy="40" r="9"/><circle cx="42" cy="40" r="7"/></g><path d="M52,58H60" stroke="#eee" stroke-width="1.2"/></svg>
<svg x="442" y="533" width="65" height="64"><rect width="65" height="64" fill="url(#bg24)"/><circle cx="32" cy="32" r="30" fill="#a5a5a5"/><circle cx="32" cy="32" r="24" fill="#cfcbc3" stroke="#b38b7b" stroke-width="1.2"/><g fill="none" stroke="#f6f4ef" stroke-width="1.5"><circle cx="24" cy="26" r="7"/><circle cx="37" cy="23" r="7"/><circle cx="42" cy="36" r="7"/><circle cx="28" cy="42" r="8"/><circle cx="33" cy="32" r="5"/></g></svg>
<svg x="512" y="464" width="65" height="63"><rect width="65" height="63" fill="url(#bg24)"/><circle cx="32" cy="31" r="31" fill="#a4a4a4"/><circle cx="32" cy="31" r="28" fill="#cfcac2" stroke="#9a7a6c" stroke-width="1.2"/><g fill="none" stroke="#8c8680" stroke-width="0.8" opacity="0.7"><circle cx="25" cy="25" r="8"/><circle cx="40" cy="30" r="9"/><circle cx="30" cy="42" r="7"/></g></svg>
<svg x="580" y="464" width="66" height="63"><rect width="66" height="63" fill="url(#bg24)"/><circle cx="33" cy="32" r="31" fill="#a4a4a4"/><circle cx="33" cy="32" r="28" fill="#ccc7bf" stroke="#9a7a6c" stroke-width="1.2"/><g fill="none" stroke="#8c8680" stroke-width="0.8" opacity="0.7"><circle cx="26" cy="26" r="8"/><circle cx="41" cy="30" r="8"/><circle cx="31" cy="42" r="8"/></g><path d="M52,57H60" stroke="#eee" stroke-width="1.2"/></svg>
<svg x="512" y="533" width="65" height="64"><rect width="65" height="64" fill="url(#bg24)"/><circle cx="32" cy="34" r="30" fill="#a5a5a5"/><circle cx="32" cy="34" r="26" fill="#d0ccc4" stroke="#9a7a6c" stroke-width="1.2"/><g fill="none" stroke="#f4f2ee" stroke-width="1.2"><circle cx="26" cy="28" r="8"/><circle cx="39" cy="32" r="8"/><circle cx="30" cy="44" r="8"/></g></svg>
<svg x="580" y="533" width="66" height="64"><rect width="66" height="64" fill="url(#bg24)"/><circle cx="33" cy="33" r="30" fill="#8f8f8f"/><circle cx="33" cy="33" r="25" fill="#c9c5bb" stroke="#9a7a6c" stroke-width="1.2"/><g fill="none" stroke="#f6f4ef" stroke-width="1.5"><circle cx="24" cy="25" r="7"/><circle cx="40" cy="24" r="7"/><circle cx="44" cy="38" r="7"/><circle cx="30" cy="44" r="8"/></g><path d="M52,58H60" stroke="#eee" stroke-width="1.2"/></svg>

<!-- ================= (l) ================= -->
<text x="640" y="462" font-size="16">(l)</text>
<text x="658" y="463" font-size="9.5">ERBB3-blocked embryo</text>
<svg x="659" y="465" width="63" height="63"><rect width="63" height="63" fill="#000"/><use href="#nuc" fill="#1f1fff"/><text x="3" y="11" font-size="9.5" fill="#2a2aff">DAPI</text><path d="M48,57H56" stroke="#bbb" stroke-width="1.2"/></svg>
<svg x="727" y="465" width="64" height="63"><rect width="64" height="63" fill="#000"/><g fill="#1a9a1a"><circle cx="20" cy="50" r="1"/><circle cx="40" cy="40" r="0.9"/><circle cx="55" cy="22" r="0.9"/><circle cx="30" cy="15" r="0.8"/><circle cx="60" cy="45" r="0.8"/></g><text x="3" y="11" font-size="9.5" fill="#22cc22">CDX2</text></svg>
<svg x="659" y="533" width="63" height="64"><rect width="63" height="64" fill="#000"/><ellipse cx="32" cy="34" rx="24" ry="22" fill="#300000" opacity="0.8"/><use href="#nuc" fill="#d01414" transform="translate(0,2)"/><text x="3" y="11" font-size="9.5" fill="#e81c1c">OCT4</text></svg>
<svg x="727" y="533" width="64" height="64"><rect width="64" height="64" fill="#000"/><ellipse cx="32" cy="34" rx="26" ry="24" fill="#1a0a30" opacity="0.9"/><use href="#nuc" fill="#9a34e8" transform="translate(1,2)"/><g fill="#2a2aff"><circle cx="8" cy="40" r="1.6"/><circle cx="30" cy="60" r="1.4"/><circle cx="56" cy="28" r="1.4"/></g><text x="3" y="11" font-size="9.5" fill="#e6dcc0">Merge</text></svg>
</svg>
</body></html>
